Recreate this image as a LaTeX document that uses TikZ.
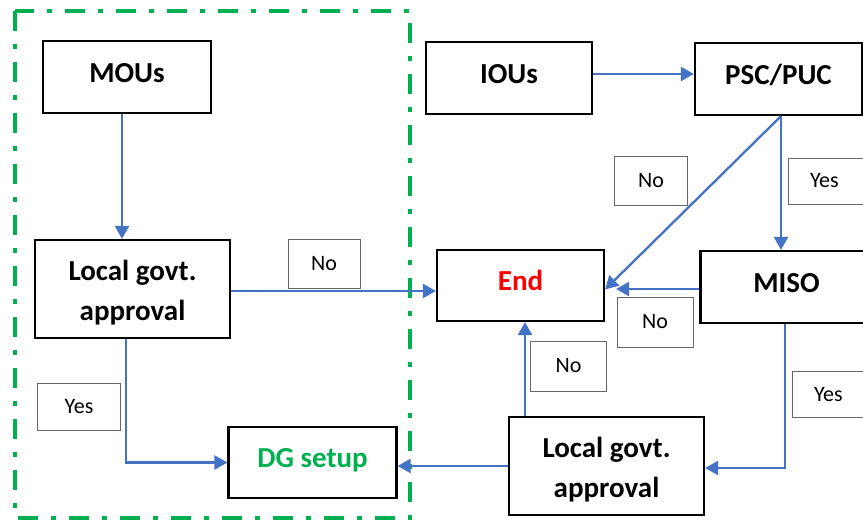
\documentclass[tikz,border=0pt]{standalone}
\usepackage{fontspec}
\setmainfont{Carlito}
\usetikzlibrary{arrows.meta,calc}
\definecolor{arrblue}{HTML}{4472C4}
\definecolor{frgreen}{HTML}{00B050}
\begin{document}
\begin{tikzpicture}[x=1pt,y=-1pt,
  boxfont/.style={font=\fontsize{29}{40}\selectfont\bfseries},
  mainbox/.style={draw=black,line width=2.2pt,minimum width=#1,inner sep=0pt,boxfont,
    text height=20pt,text depth=9.3pt},
  twobox/.style={draw=black,line width=2.2pt,minimum width=#1,minimum height=98pt,inner sep=0pt},
  twotext/.style={boxfont,align=center,inner sep=0pt},
  lbl/.style={draw=black!60,line width=0.9pt,inner sep=0pt,font=\fontsize{22}{26}\selectfont},
  arr/.style={draw=arrblue,line width=2.3pt,-{Triangle[length=13pt,width=14pt]}}]
\useasboundingbox (0,0) rectangle (863,523);
\draw[frgreen,line width=3.5pt,dash pattern=on 20pt off 13pt on 5pt off 13pt] (15,11) rectangle (410,518);

\node[mainbox=168pt,minimum height=72pt] (mous) at (127,77) {MOUs};
\node[twobox=195pt] (locl) at (132.5,289) {};
\node[twotext] (locltxt) at ([yshift=-4pt]locl.center) {Local govt.\\approval};
\node[mainbox=168pt,minimum height=71pt,text=frgreen] (dg) at (312.5,462.5) {DG setup};
\node[mainbox=166pt,minimum height=72pt] (ious) at (509,78) {IOUs};
\node[mainbox=167pt,minimum height=72pt] (psc) at (778.5,79) {PSC/PUC};
\node[mainbox=167pt,minimum height=71pt,text=red] (end) at (520.5,285.5) {End};
\node[mainbox=172pt,minimum height=72pt] (miso) at (786.5,287) {MISO\hspace{7pt}};
\node[twobox=195pt] (locr) at (606.5,466) {};
\node[twotext] (locrtxt) at ([yshift=-4pt]locr.center) {Local govt.\\approval};

\node[lbl,minimum width=72pt,minimum height=49pt] (no1) at (324,263.5) {No};
\node[lbl,minimum width=83pt,minimum height=47pt] (yes1) at (79,407) {Yes};
\node[lbl,minimum width=73pt,minimum height=49pt] (no2) at (651,181) {No};
\node[lbl,minimum width=80pt,minimum height=46pt,text width=80pt,align=left] (yes2) at (828,181) {\hspace{22pt}Yes};
\node[lbl,minimum width=76pt,minimum height=50pt] (no3) at (655,322) {No};
\node[lbl,minimum width=76pt,minimum height=50pt] (no4) at (568.5,366) {No};
\node[lbl,minimum width=80pt,minimum height=46pt,text width=80pt,align=left] (yes3) at (832,394.5) {\hspace{22pt}Yes};

\draw[arr] ([xshift=-5pt]mous.south) -- ([xshift=-5pt]mous.south |- locl.north);
\draw[arr] ([yshift=-2pt]locl.east) -- ([yshift=-2pt]locl.east -| end.west);
\draw[arr] ([xshift=-6.5pt]locl.south) |- (dg.west);
\draw[arr] ([yshift=4pt]ious.east) -- ([yshift=4pt]ious.east -| psc.west);
\draw[arr] ([xshift=2.5pt]psc.south) -- ([xshift=2.5pt]psc.south |- miso.north);
\draw[arr] ([xshift=2.5pt]psc.south) -- ([yshift=-4pt]end.east);
\draw[arr,shorten >=11pt] ([yshift=-2pt]miso.west) -- ([yshift=-2pt]miso.west -| end.east);
\draw[arr] ([xshift=-1.5pt]miso.south) |- ([yshift=-2pt]locr.east);
\draw[arr] ([xshift=-81.5pt]locr.north) -- ([xshift=-81.5pt]locr.north |- end.south);
\draw[arr] (locr.west) -- (locr.west -| dg.east);
\end{tikzpicture}
\end{document}
